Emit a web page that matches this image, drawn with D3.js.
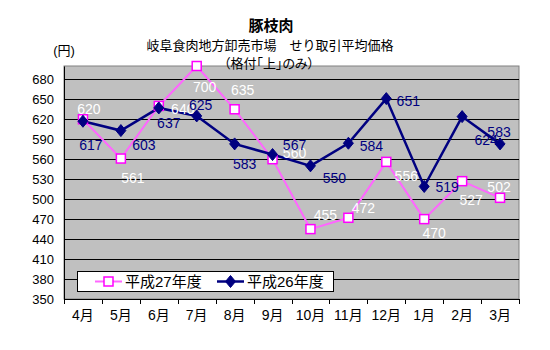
<!DOCTYPE html>
<html><head><meta charset="utf-8">
<script src="https://cdn.jsdelivr.net/npm/d3@7"></script>
<style>
body{margin:0;background:#fff;}
text{font-family:"Liberation Sans","Noto Sans CJK JP",sans-serif;}
</style></head>
<body><svg id="c" width="550" height="350"></svg>
<script>
const months = ["4月","5月","6月","7月","8月","9月","10月","11月","12月","1月","2月","3月"];
const seriesNames = ["平成27年度","平成26年度"];
const h27 = [620,561,640,700,635,560,455,472,556,470,527,502];
const h26 = [617,603,637,625,583,567,550,584,651,519,624,583];
const yTicks = [350,380,410,440,470,500,530,560,590,620,650,680];
// label placement offsets (dx, dy) relative to each point
const lab27 = [[6,-10],[12,19],[24,3],[8,21],[8,-19],[22,-6],[15,-14],[15,-10],[20,14],[10,14],[9,19],[-1,-11]];
const lab26 = [[8,24],[23,14],[10,15],[4,-11],[10,20],[22,-10],[24,12],[23,3],[22,2],[23,1],[24,23],[-1,-12]];

const svg = d3.select("#c");
const L=64, R=519, T=66, B=299;
const x = d3.scaleBand().domain(months).range([L,R]);
const y = d3.scaleLinear().domain([350,700]).range([B,T]);
const cx = m => x(m)+x.bandwidth()/2;

svg.append("rect").attr("x",L).attr("y",T).attr("width",R-L).attr("height",B-T)
  .attr("fill","#c0c0c0").attr("stroke","#808080").attr("stroke-width",1);

// gridlines
svg.append("g").selectAll("line").data(yTicks.filter(v=>v>350)).join("line")
  .attr("x1",L).attr("x2",R).attr("y1",d=>Math.round(y(d))+0.5).attr("y2",d=>Math.round(y(d))+0.5)
  .attr("stroke","#000").attr("stroke-width",1);

// y axis
const ya = svg.append("g").attr("transform",`translate(${L},0)`)
  .call(d3.axisLeft(y).tickValues(yTicks).tickSize(0).tickPadding(10));
ya.select(".domain").attr("stroke","#000");
ya.selectAll("text").attr("font-size",13).attr("fill","#000")
  .attr("font-family","'Liberation Sans','Noto Sans CJK JP',sans-serif");

// x axis
const xa = svg.append("g").attr("transform",`translate(0,${B})`)
  .call(d3.axisBottom(x).tickSize(0).tickPadding(11));
xa.select(".domain").attr("stroke","#000");
xa.selectAll("text").attr("font-size",14).attr("fill","#000")
  .attr("font-family","'Liberation Sans','Noto Sans CJK JP',sans-serif");
svg.append("g").selectAll("line").data(d3.range(months.length+1)).join("line")
  .attr("x1",i=>Math.round(L+i*x.bandwidth())+0.5).attr("x2",i=>Math.round(L+i*x.bandwidth())+0.5)
  .attr("y1",B).attr("y2",B+5).attr("stroke","#000");

const line = d3.line().x((d,i)=>cx(months[i])).y(d=>y(d));
const c27 = "#ff66ff", c27m="#ff00ff", c26="#000080";

svg.append("path").datum(h27).attr("d",line).attr("fill","none").attr("stroke",c27).attr("stroke-width",2);
svg.append("path").datum(h26).attr("d",line).attr("fill","none").attr("stroke",c26).attr("stroke-width",2.5);

svg.append("g").selectAll("rect").data(h27).join("rect")
  .attr("x",(d,i)=>cx(months[i])-4.5).attr("y",d=>y(d)-4.5).attr("width",9).attr("height",9)
  .attr("fill","#fff").attr("stroke",c27m).attr("stroke-width",1.5);
const diamond = "M0,-6L5,0L0,6L-5,0Z";
svg.append("g").selectAll("path").data(h26).join("path")
  .attr("d",diamond).attr("transform",(d,i)=>`translate(${cx(months[i])},${y(d)})`)
  .attr("fill",c26).attr("stroke",c26);

// data labels
svg.append("g").selectAll("text").data(h27).join("text")
  .attr("x",(d,i)=>cx(months[i])+lab27[i][0]).attr("y",(d,i)=>y(d)+lab27[i][1])
  .attr("text-anchor","middle").attr("dominant-baseline","central")
  .attr("font-size",14).attr("fill","#fff").text(d=>d);
svg.append("g").selectAll("text").data(h26).join("text")
  .attr("x",(d,i)=>cx(months[i])+lab26[i][0]).attr("y",(d,i)=>y(d)+lab26[i][1])
  .attr("text-anchor","middle").attr("dominant-baseline","central")
  .attr("font-size",14).attr("fill",c26).text(d=>d);

// titles
svg.append("text").attr("x",271).attr("y",25).attr("text-anchor","middle").attr("dominant-baseline","central")
  .attr("font-size",15).attr("font-weight","bold").text("豚枝肉");
svg.append("text").attr("x",270).attr("y",45).attr("text-anchor","middle").attr("dominant-baseline","central")
  .attr("font-size",13).text("岐阜食肉地方卸売市場　せり取引平均価格");
svg.append("text").attr("x",269).attr("y",63).attr("text-anchor","middle").attr("dominant-baseline","central")
  .attr("font-size",13).style("font-feature-settings","'palt'").text("（格付「上」のみ）");
svg.append("text").attr("x",64).attr("y",50).attr("text-anchor","middle").attr("dominant-baseline","central")
  .attr("font-size",13).text("(円)");

// legend
const lg = svg.append("g");
lg.append("rect").attr("x",77.5).attr("y",271.5).attr("width",256).attr("height",20)
  .attr("fill","#fff").attr("stroke","#000");
const items = [{n:seriesNames[0],c:c27,m:"sq",x:95},{n:seriesNames[1],c:c26,m:"di",x:217}];
items.forEach(it=>{
  lg.append("line").attr("x1",it.x).attr("x2",it.x+27).attr("y1",281.5).attr("y2",281.5)
    .attr("stroke",it.c).attr("stroke-width",it.m==="sq"?2:2.5);
  if(it.m==="sq") lg.append("rect").attr("x",it.x+9).attr("y",277).attr("width",9).attr("height",9)
    .attr("fill","#fff").attr("stroke",c27m).attr("stroke-width",1.5);
  else lg.append("path").attr("d",diamond).attr("transform",`translate(${it.x+13.5},281.5)`).attr("fill",c26).attr("stroke",c26);
  lg.append("text").attr("x",it.x+30).attr("y",281.5).attr("dominant-baseline","central")
    .attr("font-size",15).text(it.n);
});
</script></body></html>
